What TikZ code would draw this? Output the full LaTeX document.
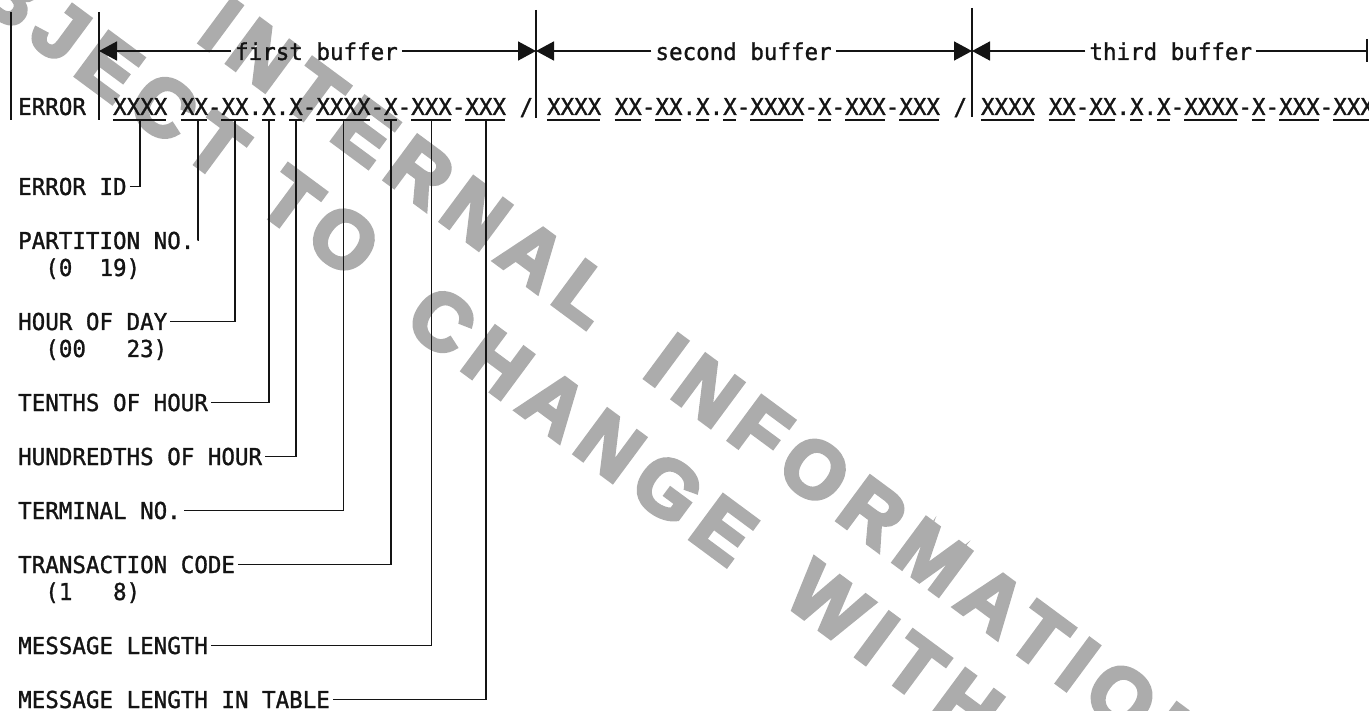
\documentclass[tikz,border=0pt]{standalone}
\usepackage{fontspec}
\usepackage{xcolor}
\usepackage{tikz}
\usetikzlibrary{arrows.meta, positioning, calc}
\newfontfamily\typewriter[FakeStretch=0.966, FakeBold=1.2]{DejaVu Sans Mono}
\newfontfamily\stampfont[LetterSpace=15, FakeBold=5]{Liberation Sans Bold}
\definecolor{inkblack}{RGB}{20, 20, 20}
\definecolor{stampgray}{RGB}{172, 172, 172}
% column of the typed grid (pitch 13.56pt)
\newcommand{\colx}[1]{18+(#1)*13.56}

\begin{document}
\begin{tikzpicture}[
        x = 1pt, y = -1pt,
        typed/.style = {font=\typewriter\fontsize{23.3}{27}\selectfont, text=inkblack, inner sep=0pt, anchor=base west},
        field/.style = {typed, inner xsep=3pt, text height=17pt, text depth=0pt},
        span/.style = {typed, inner xsep=4pt, text height=18pt, text depth=0pt},
        stamp/.style = {font=\stampfont\fontsize{80}{80}\selectfont, text=stampgray, rotate=-36.5, inner sep=0pt},
        wire/.style = {line width=1.8pt, inkblack},
        bar/.style = {line width=2.2pt, inkblack},
        dim/.style = {line width=1.6pt, inkblack, -{Triangle[length=18pt, width=19pt]}}
    ]
        \useasboundingbox (0,0) rectangle (1369,711);

        % Stamp
        \begin{scope}
            \clip (0,0) rectangle (1369,711);
            \node [stamp] (intl) at (408,163) {INTERNAL};
            \node [stamp] (info) at (930,555) {INFORMATION};
            \node [stamp] (subj) at (57,28) {SUBJECT};
            \node [stamp] (to) at (320,222) {TO};
            \node [stamp] (chg) at (582,425) {CHANGE};
            \node [stamp] (wo) at (977,712) {WITHOUT};
        \end{scope}

        % Record line
        \node [typed] (err) at ({\colx{0}},115) {ERROR};
        \node [typed] (buf1) at ({\colx{7}},115) {XXXX XX-XX.X.X-XXXX-X-XXX-XXX /};
        \node [typed] (buf2) at ({\colx{39}},115) {XXXX XX-XX.X.X-XXXX-X-XXX-XXX /};
        \node [typed] (buf3) at ({\colx{71}},115) {XXXX XX-XX.X.X-XXXX-X-XXX-XXX};

        \foreach \off in {0,32,64}
            \foreach \s/\n in {7/4,12/2,15/2,18/1,20/1,22/4,27/1,29/3,33/3}
                \draw [wire] ({\colx{\s+\off}},120) -- ({\colx{\s+\n+\off}-1},120);

        % Buffer spans
        \coordinate (d0) at (99,51);
        \coordinate (d1) at (536,51);
        \coordinate (d2) at (972,51);
        \coordinate (d3) at (1367,51);
        \node [span] (fb) at ({\colx{16}-4},60) {first buffer};
        \node [span] (sb) at ({\colx{47}-4},60) {second buffer};
        \node [span] (tb) at ({\colx{79}-4},60) {third buffer};

        \draw [bar] (11,12) -- (11,120);
        \draw [bar] (d0 |- 0,12) -- (d0 |- 0,120);
        \draw [bar] (d1 |- 0,10) -- (d1 |- 0,118);
        \draw [bar] (d2 |- 0,8) -- (d2 |- 0,117);
        \draw [bar] (d3 |- 0,39) -- (d3 |- 0,62);

        \draw [dim] (fb.west) -- (d0);
        \draw [dim] (fb.east) -- (d1);
        \draw [dim] (sb.west) -- (d1);
        \draw [dim] (sb.east) -- (d2);
        \draw [dim] (tb.west) -- (d2);
        \draw [wire] (tb.east) -- (d3);

        % Field names
        \node [field] (eid) at ({\colx{0}-3},195) {ERROR ID};
        \node [field] (part) at ({\colx{0}-3},249) {PARTITION NO.};
        \node [typed] (partrng) at ({\colx{2}},276) {(0~~19)};
        \node [field] (hour) at ({\colx{0}-3},330) {HOUR OF DAY};
        \node [typed] (hourrng) at ({\colx{2}},357) {(00~~~23)};
        \node [field] (tenth) at ({\colx{0}-3},411) {TENTHS OF HOUR};
        \node [field] (hund) at ({\colx{0}-3},465) {HUNDREDTHS OF HOUR};
        \node [field] (term) at ({\colx{0}-3},519) {TERMINAL NO.};
        \node [field] (trans) at ({\colx{0}-3},573) {TRANSACTION CODE};
        \node [typed] (transrng) at ({\colx{2}},600) {(1~~~8)};
        \node [field] (msg) at ({\colx{0}-3},654) {MESSAGE LENGTH};
        \node [field] (tab) at ({\colx{0}-3},708) {MESSAGE LENGTH IN TABLE};

        % Connectors
        \coordinate (uid) at ({\colx{9}},120);
        \coordinate (upart) at ({\colx{13.3}},120);
        \coordinate (uhour) at ({\colx{16}},120);
        \coordinate (utenth) at ({\colx{18.5}},120);
        \coordinate (uhund) at ({\colx{20.5}},120);
        \coordinate (uterm) at ({\colx{24}},120);
        \coordinate (utrans) at ({\colx{27.5}},120);
        \coordinate (umsg) at ({\colx{30.5}},120);
        \coordinate (utab) at ({\colx{34.5}},120);

        \draw [wire] (eid.east) -| (uid);
        \draw [wire] (part.east) -| (upart);
        \draw [wire] (hour.east) -| (uhour);
        \draw [wire] (tenth.east) -| (utenth);
        \draw [wire] (hund.east) -| (uhund);
        \draw [wire] (term.east) -| (uterm);
        \draw [wire] (trans.east) -| (utrans);
        \draw [wire] (msg.east) -| (umsg);
        \draw [wire] (tab.east) -| (utab);
\end{tikzpicture}
\end{document}
